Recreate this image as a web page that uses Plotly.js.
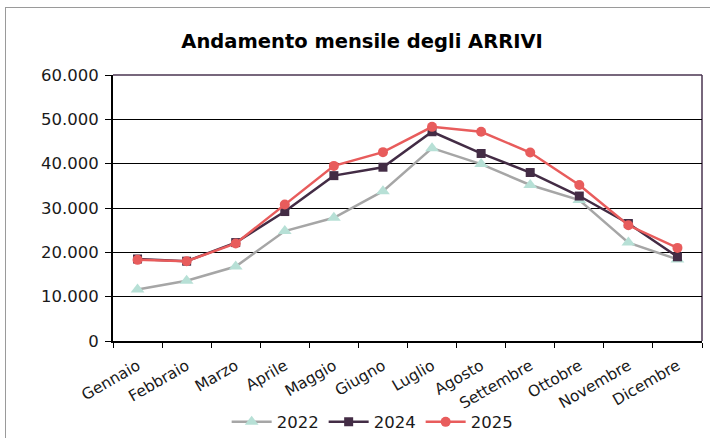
<!DOCTYPE html>
<html><head><meta charset="utf-8">
<script src="https://cdn.plot.ly/plotly-3.0.1.min.js"></script>
<style>
html,body{margin:0;padding:0;overflow:hidden;background:#fff;}
#frame{position:absolute;left:5px;top:7px;width:900px;height:700px;border:1px solid #9a9a9a;box-sizing:border-box;}
#chart{position:absolute;left:0;top:0;width:710px;height:438px;}
</style></head>
<body>
<div id="frame"></div>
<div id="chart"></div>
<script>
const months = ["Gennaio","Febbraio","Marzo","Aprile","Maggio","Giugno","Luglio","Agosto","Settembre","Ottobre","Novembre","Dicembre"];
const arrivi2022 = [11600,13600,16800,24800,27800,33800,43500,39900,35200,31800,22200,18400];
const arrivi2024 = [18500,18000,22200,29200,37300,39200,47200,42300,38000,32700,26500,19000];
const arrivi2025 = [18300,18000,22000,30800,39500,42600,48300,47200,42500,35200,26100,21000];
const yTicks = [0,10000,20000,30000,40000,50000,60000];
const yTickText = ["0","10.000","20.000","30.000","40.000","50.000","60.000"];

const font = "DejaVu Sans, sans-serif";
const traces = [
  {x: months, y: arrivi2022, name: "2022", type: "scatter", mode: "lines+markers",
   line: {color: "#a6a6a6", width: 2.5},
   marker: {symbol: "triangle-up", size: 12, color: "#b7e0d6"}},
  {x: months, y: arrivi2024, name: "2024", type: "scatter", mode: "lines+markers",
   line: {color: "#432c45", width: 2.5},
   marker: {symbol: "square", size: 9, color: "#432c45"}},
  {x: months, y: arrivi2025, name: "2025", type: "scatter", mode: "lines+markers",
   line: {color: "#e85c5c", width: 2.5},
   marker: {symbol: "circle", size: 10, color: "#e85c5c"}}
];
const layout = {
  width: 710, height: 438,
  margin: {l: 113, r: 8, t: 75, b: 97, autoexpand: false},
  paper_bgcolor: "rgba(0,0,0,0)", plot_bgcolor: "#fff",
  font: {family: font, color: "#1a1a1a", size: 14},
  title: {text: "<b>Andamento mensile degli ARRIVI</b>", x: 0.51, xref: "container", y: 0.905, yanchor: "middle",
          font: {family: font, size: 19.5, color: "#000"}},
  xaxis: {type: "category", tickangle: -30, tickson: "boundaries", ticks: "outside", ticklen: 5,
          tickcolor: "#000", showline: true, linecolor: "#000", linewidth: 2, showgrid: false, automargin: false,
          tickfont: {family: font, size: 15.5, color: "#1a1a1a"}, range: [-0.5, 11.5], ticklabelstandoff: 8},
  yaxis: {range: [0, 60000], tickvals: yTicks, ticktext: yTickText, ticks: "outside", ticklen: 6,
          tickcolor: "#000", showline: true, linecolor: "#000", linewidth: 2, automargin: false,
          showgrid: true, gridcolor: "#000", gridwidth: 1, zeroline: false,
          tickfont: {family: font, size: 16.5, color: "#1a1a1a"}, ticklabelstandoff: 3},
  shapes: [
    {type: "line", xref: "paper", yref: "paper", x0: 0, x1: 1, y0: 1, y1: 1, line: {color: "#4a3550", width: 1.5}, layer: "below"},
    {type: "line", xref: "paper", yref: "paper", x0: 1, x1: 1, y0: 0, y1: 1, line: {color: "#4a3550", width: 1.5}, layer: "below"}
  ],
  showlegend: true,
  legend: {orientation: "h", x: 0.44, xanchor: "center", y: -0.305, yanchor: "middle",
           font: {family: font, size: 16.5, color: "#1a1a1a"}, itemwidth: 40, bgcolor: "rgba(0,0,0,0)"}
};
Plotly.newPlot("chart", traces, layout, {displayModeBar: false, staticPlot: true});
</script>
</body></html>
